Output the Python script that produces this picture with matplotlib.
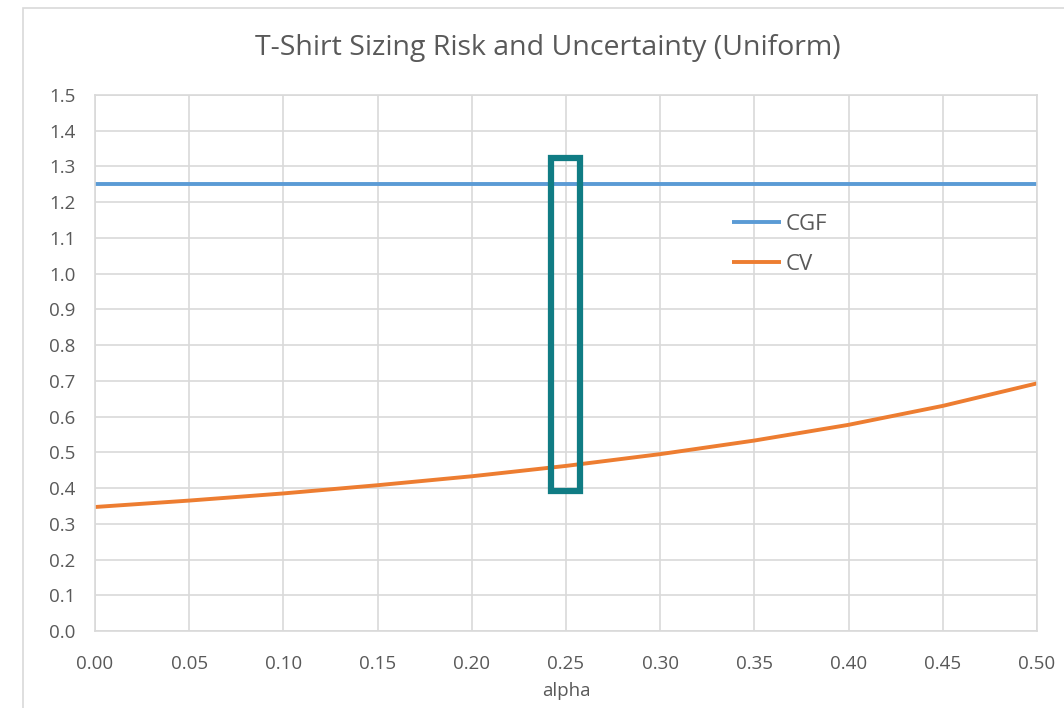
import matplotlib
matplotlib.use("Agg")
import matplotlib.pyplot as plt
from matplotlib.patches import Rectangle

# values
alpha = [0.00, 0.05, 0.10, 0.15, 0.20, 0.25, 0.30, 0.35, 0.40, 0.45, 0.50]
cgf = [1.25] * len(alpha)
cv = [0.347, 0.365, 0.385, 0.408, 0.433, 0.462, 0.495, 0.533, 0.577, 0.630, 0.693]

# highlight box around alpha = 0.25
box_x = (0.242, 0.2574)
box_y = (0.392, 1.324)

xticks = [0.00, 0.05, 0.10, 0.15, 0.20, 0.25, 0.30, 0.35, 0.40, 0.45, 0.50]
yticks = [0.0, 0.1, 0.2, 0.3, 0.4, 0.5, 0.6, 0.7, 0.8, 0.9, 1.0, 1.1, 1.2, 1.3, 1.4, 1.5]

TXT = "#595959"
GRID = "#d9d9d9"

plt.rcParams["font.family"] = ["Open Sans", "DejaVu Sans"]

W, H = 1064, 708
fig = plt.figure(figsize=(W / 100, H / 100), dpi=100)

# outer chart border (partly cropped in the reference)
fig.add_artist(Rectangle((23 / W, -0.1), 1.2, (H - 8) / H + 0.1, transform=fig.transFigure,
                         fill=False, edgecolor=GRID, linewidth=1.2))

ax = fig.add_axes([95 / W, 1 - 631 / H, (1037 - 95) / W, (631 - 95) / H])

ax.plot(alpha, cgf, color="#5b9bd5", linewidth=2.8, label="CGF", solid_capstyle="butt")
ax.plot(alpha, cv, color="#ed7d31", linewidth=2.8, label="CV", solid_capstyle="butt",
        solid_joinstyle="round")

ax.add_patch(Rectangle((box_x[0], box_y[0]), box_x[1] - box_x[0], box_y[1] - box_y[0],
                       fill=False, edgecolor="#107c84", linewidth=4.5, zorder=5))

ax.set_xlim(0, 0.5)
ax.set_ylim(0, 1.5)
ax.set_xticks(xticks)
ax.set_yticks(yticks)
ax.set_xticklabels([f"{v:.2f}" for v in xticks])
ax.set_yticklabels([f"{v:.1f}" for v in yticks])
ax.tick_params(length=0, colors=TXT, labelsize=13.5)
ax.tick_params(axis="x", pad=17)
ax.tick_params(axis="y", pad=14)
ax.grid(True, color=GRID, linewidth=1.2)
ax.set_axisbelow(True)
for s in ax.spines.values():
    s.set_color(GRID)
    s.set_linewidth(1.2)

ax.set_xlabel("alpha", color=TXT, fontsize=13.5, labelpad=7)
fig.text(548 / W, 1 - 48 / H, "T-Shirt Sizing Risk and Uncertainty (Uniform)", ha="center",
         va="center", color=TXT, fontsize=20.5)

leg = ax.legend(loc="upper left", bbox_to_anchor=((712 - 95) / (1037 - 95), (631 - 194) / (631 - 95)),
                frameon=False, fontsize=16, handlelength=2.2, handletextpad=0.2, labelspacing=0.85)
for t in leg.get_texts():
    t.set_color(TXT)

fig.savefig("out.png", dpi=100)
